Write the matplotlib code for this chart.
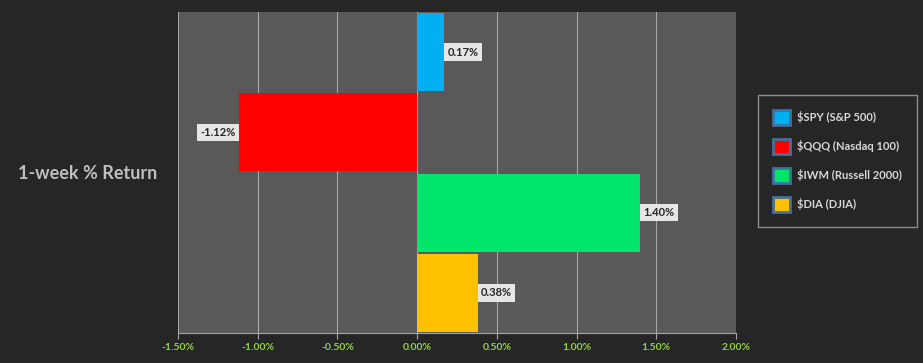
import matplotlib
matplotlib.use('Agg')
import matplotlib.pyplot as plt
import matplotlib.patches as mpatches
from matplotlib.ticker import FuncFormatter

plt.rcParams['font.family'] = ['Lato', 'DejaVu Sans']

tickers = ['$SPY (S&P 500)', '$QQQ (Nasdaq 100)', '$IWM (Russell 2000)', '$DIA (DJIA)']
returns = [0.17, -1.12, 1.40, 0.38]
colors = ['#00b0f0', '#ff0000', '#00e66b', '#ffc000']
xticks = [-1.5, -1.0, -0.5, 0.0, 0.5, 1.0, 1.5, 2.0]

fig = plt.figure(figsize=(9.23, 3.63), dpi=100)
fig.patch.set_facecolor('#262626')
ax = fig.add_axes([178 / 923, 1 - 333 / 363, (736 - 178) / 923, (333 - 12) / 363])
ax.set_facecolor('#595959')

ypos = list(range(len(returns)))
ax.barh(ypos, returns, height=0.97, color=colors, zorder=3)
ax.set_ylim(len(returns) - 0.5, -0.5)
ax.set_xlim(-1.5, 2.0)
ax.set_xticks(xticks)
ax.xaxis.set_major_formatter(FuncFormatter(lambda v, p: '%.2f%%' % v))
ax.set_yticks([])
ax.grid(axis='x', color='#a6a6a6', linewidth=0.8, zorder=0)
for s in ['top', 'left', 'right']:
    ax.spines[s].set_visible(False)
ax.spines['bottom'].set_color('#a6a6a6')
ax.tick_params(axis='x', colors='#a6a6a6', length=4, labelcolor='#92d050', labelsize=7.5)
for lab in ax.get_xticklabels():
    lab.set_fontweight('bold')

for y, v in zip(ypos, returns):
    off = 0.02 if v >= 0 else -0.02
    ax.text(v + off, y, '%.2f%%' % v, ha='left' if v >= 0 else 'right', va='center',
            fontsize=8, fontweight='bold', color='#262626', zorder=5,
            bbox=dict(boxstyle='square,pad=0.3', facecolor='#e6e6e6', edgecolor='none'))

fig.text(88 / 923, 1 - 173 / 363, '1-week % Return', ha='center', va='center',
         fontsize=13, fontweight='bold', color='#bfbfbf')

handles = [mpatches.Patch(facecolor=c, edgecolor='#41719c', linewidth=2, label=t)
           for c, t in zip(colors, tickers)]
leg = fig.legend(handles=handles, loc='upper right', bbox_to_anchor=(917 / 923, 1 - 95 / 363),
                 frameon=True, fontsize=8, labelcolor='#d9d9d9', handlelength=1.6,
                 handleheight=1.7, labelspacing=1.25, borderpad=1.35, handletextpad=0.6,
                 borderaxespad=0, fancybox=False)
leg.get_frame().set_facecolor('#262626')
leg.get_frame().set_edgecolor('#a6a6a6')
for t in leg.get_texts():
    t.set_fontweight('bold')

fig.savefig('out.png', dpi=100, facecolor=fig.get_facecolor())
